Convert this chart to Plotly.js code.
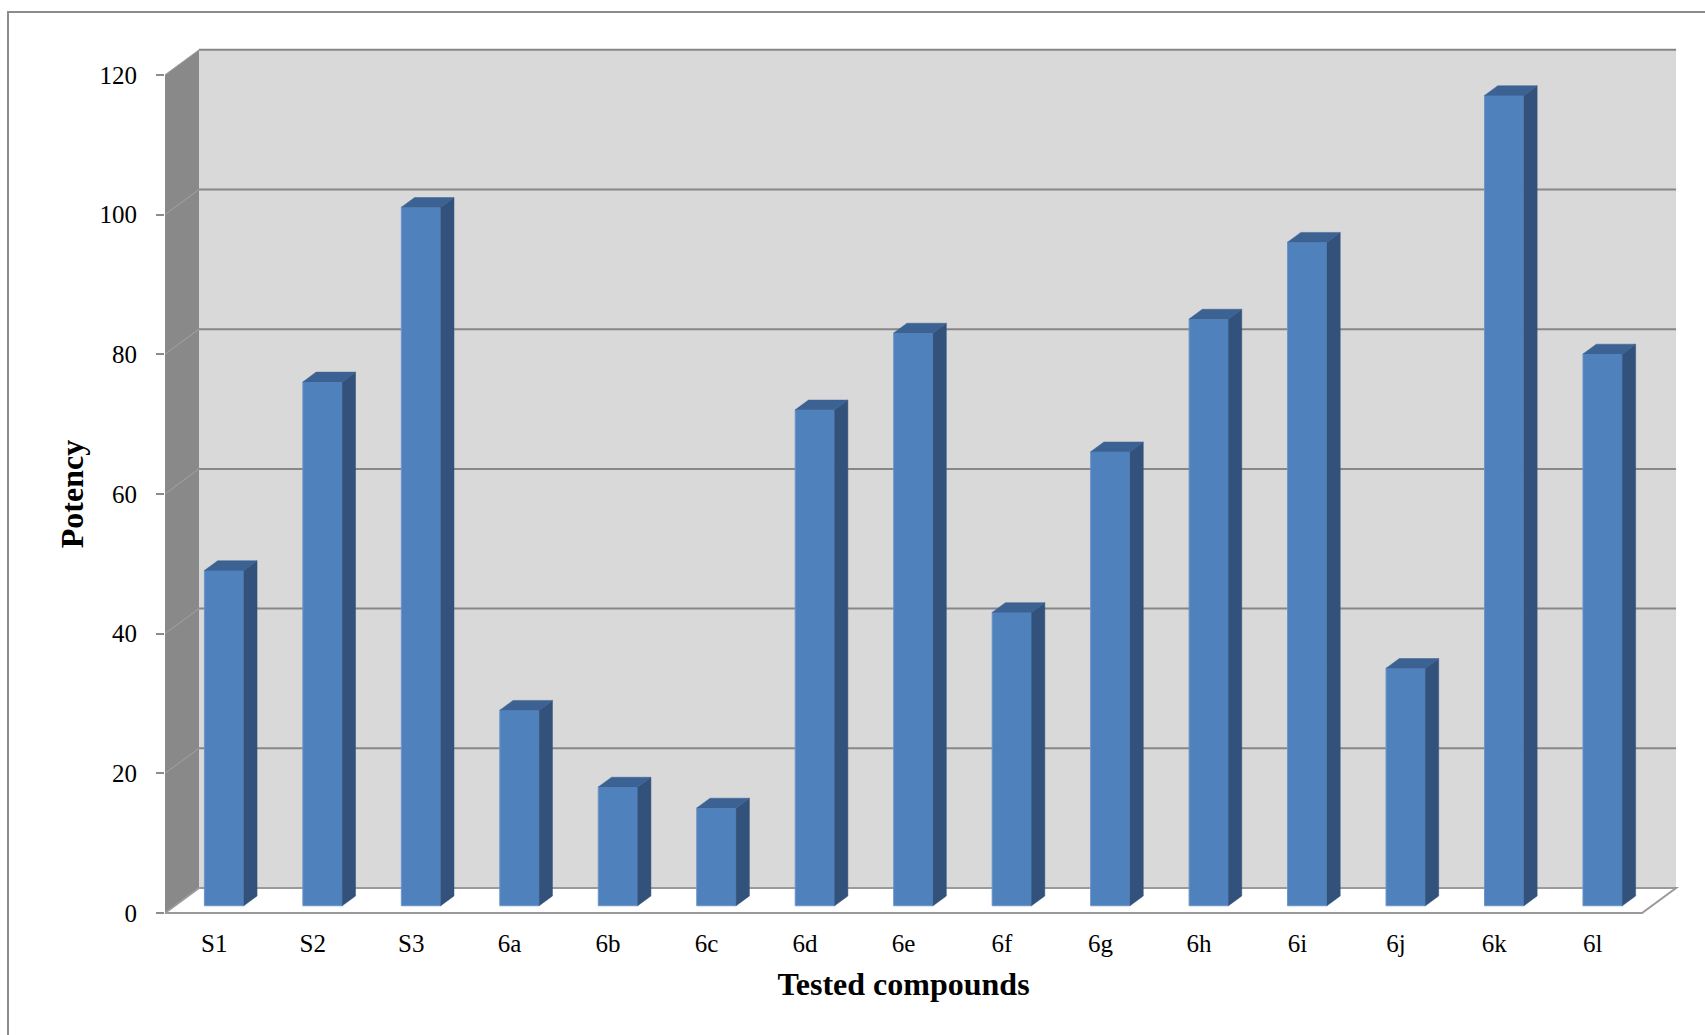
<!DOCTYPE html>
<html><head><meta charset="utf-8">
<script src="https://cdn.plot.ly/plotly-3.0.1.min.js"></script>
<style>html,body{margin:0;padding:0;background:#fff;}#chart{width:1705px;height:1035px;}</style>
</head><body><div id="chart"></div>
<script>
// ---- data ----
const categories = ['S1','S2','S3','6a','6b','6c','6d','6e','6f','6g','6h','6i','6j','6k','6l'];
const potency = [48,75,100,28,17,14,71,82,42,65,84,95,34,116,79];
const yTickValues = [0,20,40,60,80,100,120];
const xTitle = 'Tested compounds';
const yTitle = 'Potency';

// ---- geometry (pixel layout of the oblique 3-D box) ----
const W=1705, H=1035;
const L=165, R=1680, T=46, B=916;
const catPx=98.47, unitPx=6.985, zeroPx=913;
const DX=34/catPx, DY=25/unitPx;          // full depth offset in data units
const n=categories.length;
const idx=categories.map((c,i)=>i);
const xr=[-0.5, -0.5+(R-L)/catPx];
const yr=[(zeroPx-B)/unitPx, (zeroPx-T)/unitPx];
const f0=0.29, fb=0.39, bw=0.4;
const yMax=yTickValues[yTickValues.length-1];
const x0=-0.5, x1=n-0.5;
const FONT='Liberation Serif';

const px2paperX=p=>(p-L)/(R-L);
const px2paperY=p=>(B-p)/(B-T);

// ---- structure shapes ----
const shapes=[];
shapes.push({type:'rect',xref:'paper',yref:'paper',x0:px2paperX(8),x1:px2paperX(1730),y0:px2paperY(1060),y1:px2paperY(12),
  line:{color:'#8c8c8c',width:2},fillcolor:'rgba(0,0,0,0)',layer:'below'});
shapes.push({type:'rect',xref:'x',yref:'y',x0:x0+DX,x1:x1+DX,y0:DY,y1:yMax+DY,fillcolor:'#d9d9d9',line:{width:0},layer:'below'});
shapes.push({type:'path',xref:'x',yref:'y',path:`M${x0},0 L${x0},${yMax} L${x0+DX},${yMax+DY} L${x0+DX},${DY} Z`,
  fillcolor:'#898989',line:{width:0},layer:'below'});
yTickValues.forEach(v=>{
  shapes.push({type:'line',xref:'x',yref:'y',x0:x0+DX,x1:x1+DX,y0:v+DY,y1:v+DY,line:{color:'#878787',width:2},layer:'below'});
  shapes.push({type:'line',xref:'x',yref:'y',x0:x0,x1:x0+DX,y0:v,y1:v+DY,line:{color:'#a3a3a3',width:1},layer:'below'});
});
shapes.push({type:'path',xref:'x',yref:'y',path:`M${x0},0 L${x1},0 L${x1+DX},${DY} L${x0+DX},${DY} Z`,
  fillcolor:'#ffffff',line:{color:'#9a9a9a',width:2},layer:'below'});

// ---- bars ----
const b=f0*DY, ddx=fb*DX, ddy=fb*DY;
const frontX=idx.map(i=>i+f0*DX);
const sideX=[],sideY=[],topX=[],topY=[];
potency.forEach((v,i)=>{
  const xl=frontX[i]-bw/2, xrr=frontX[i]+bw/2, t=b+v;
  sideX.push(xrr,xrr,xrr+ddx,xrr+ddx,xrr,null);
  sideY.push(b,t,t+ddy,b+ddy,b,null);
  topX.push(xl,xrr,xrr+ddx,xl+ddx,xl,null);
  topY.push(t,t,t+ddy,t+ddy,t,null);
});

const traces=[
  {type:'bar',x:frontX,y:potency,base:b,width:bw,marker:{color:'#4f81bd',line:{color:'#6a95c9',width:1}},
   hoverinfo:'skip',showlegend:false},
  {type:'scatter',mode:'lines',x:sideX,y:sideY,fill:'toself',fillcolor:'#32527b',line:{width:0.5,color:'#32527b'},
   hoverinfo:'skip',showlegend:false},
  {type:'scatter',mode:'lines',x:topX,y:topY,fill:'toself',fillcolor:'#3b6293',line:{width:0.5,color:'#3b6293'},
   hoverinfo:'skip',showlegend:false},
  // empty carriers so the title-only axes (centred on the front plane) are drawn
  {type:'scatter',mode:'lines',x:[],y:[],xaxis:'x2',yaxis:'y',hoverinfo:'skip',showlegend:false},
  {type:'scatter',mode:'lines',x:[],y:[],xaxis:'x',yaxis:'y2',hoverinfo:'skip',showlegend:false}
];

const layout={
  width:W,height:H,autosize:false,
  margin:{l:L,r:W-R,t:T,b:H-B,pad:0},
  paper_bgcolor:'#ffffff',plot_bgcolor:'rgba(0,0,0,0)',
  showlegend:false,
  font:{family:FONT,color:'#000'},
  xaxis:{range:xr,domain:[0,1],tickmode:'array',tickvals:idx,ticktext:categories,showgrid:false,zeroline:false,
    showline:false,ticks:'',tickfont:{family:FONT,size:25,color:'#000'},ticklabelstandoff:10,fixedrange:true},
  yaxis:{range:yr,domain:[0,1],tickmode:'array',tickvals:yTickValues,ticks:'outside',ticklen:8,tickwidth:2,
    tickcolor:'#8c8c8c',showgrid:false,zeroline:false,showline:false,tickfont:{family:FONT,size:25,color:'#000'},
    ticklabelstandoff:14,fixedrange:true},
  xaxis2:{domain:[0,px2paperX(1642)],anchor:'y',range:xr,showticklabels:false,ticks:'',showgrid:false,zeroline:false,
    showline:false,fixedrange:true,
    title:{text:xTitle,font:{family:FONT,size:32,color:'#000',weight:'bold'},standoff:56}},
  yaxis2:{domain:[px2paperY(913),px2paperY(75)],anchor:'x',range:yr,showticklabels:false,ticks:'',showgrid:false,
    zeroline:false,showline:false,fixedrange:true,
    title:{text:yTitle,font:{family:FONT,size:32,color:'#000',weight:'bold'},standoff:70}},
  shapes:shapes
};

Plotly.newPlot('chart',traces,layout,{displayModeBar:false,staticPlot:true});
</script>
</body></html>
